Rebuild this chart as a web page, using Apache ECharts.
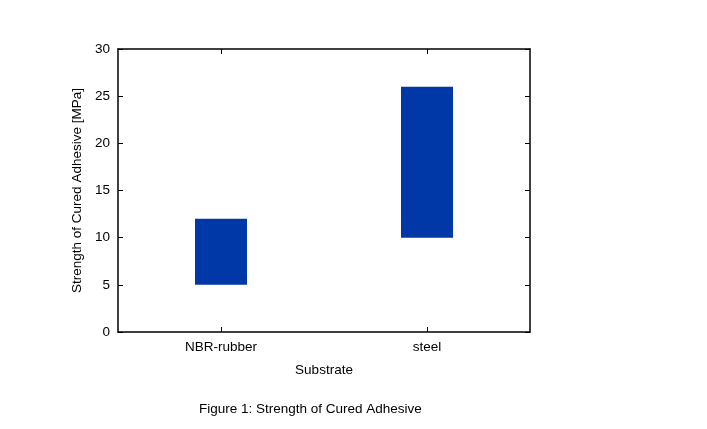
<!DOCTYPE html>
<html><head><meta charset="utf-8">
<script src="https://cdn.jsdelivr.net/npm/echarts@6/dist/echarts.min.js"></script>
<style>html,body{margin:0;padding:0;background:#fff}#c{width:707px;height:429px}</style>
</head><body><div id="c"></div>
<script>
var categories = ['NBR-rubber', 'steel'];
var lowValues = [5, 10];
var highValues = [12, 26];
var yTicks = [0, 5, 10, 15, 20, 25, 30];

var spans = highValues.map(function (h, i) { return h - lowValues[i]; });
var font = 'Liberation Sans, Arial, sans-serif';
var fs = 13.5;
var chart = echarts.init(document.getElementById('c'));
var axisLine = { show: true, onZero: false, lineStyle: { color: '#000', width: 1.5 } };
var tick = { show: true, inside: true, length: 5, lineStyle: { color: '#000', width: 1 } };
chart.setOption({
  animation: false,
  grid: { left: 118, right: 177, top: 49, bottom: 97 },
  title: {
    text: 'Figure 1: Strength of Cured Adhesive',
    left: 194, top: 397,
    textStyle: { fontFamily: font, fontSize: fs, fontWeight: 'normal', color: '#000' }
  },
  xAxis: [{
    type: 'category', data: categories, position: 'bottom',
    name: 'Substrate', nameLocation: 'middle', nameGap: 31,
    nameTextStyle: { fontFamily: font, fontSize: fs, color: '#000' },
    axisLine: axisLine,
    axisTick: Object.assign({ alignWithLabel: true }, tick),
    axisLabel: { fontFamily: font, fontSize: fs, color: '#000', margin: 8 },
    splitLine: { show: false }
  }, {
    type: 'category', data: categories, position: 'top',
    axisLine: axisLine,
    axisTick: Object.assign({ alignWithLabel: true }, tick),
    axisLabel: { show: false }, splitLine: { show: false }
  }],
  yAxis: [{
    type: 'value', min: yTicks[0], max: yTicks[yTicks.length - 1], interval: 5, position: 'left',
    name: 'Strength of Cured Adhesive [MPa]', nameLocation: 'middle', nameGap: 34, nameRotate: 90,
    nameTextStyle: { fontFamily: font, fontSize: fs, color: '#000' },
    axisLine: axisLine,
    axisTick: tick,
    axisLabel: { fontFamily: font, fontSize: fs, color: '#000', margin: 8 },
    splitLine: { show: false }
  }, {
    type: 'value', min: yTicks[0], max: yTicks[yTicks.length - 1], interval: 5, position: 'right',
    axisLine: axisLine,
    axisTick: tick,
    axisLabel: { show: false }, splitLine: { show: false }
  }],
  series: [{
    type: 'bar', stack: 'r', data: lowValues, barWidth: 52,
    itemStyle: { color: 'rgba(0,0,0,0)' }, silent: true
  }, {
    type: 'bar', stack: 'r', data: spans, barWidth: 52,
    itemStyle: { color: '#0038a8' }
  }]
});
</script></body></html>
